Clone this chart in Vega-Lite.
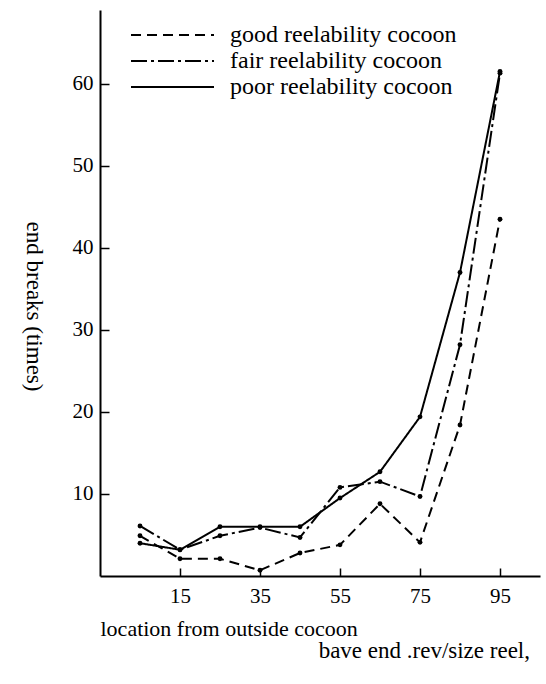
{
  "$schema": "https://vega.github.io/schema/vega-lite/v6.json",
  "width": 440,
  "height": 566,
  "autosize": {"type": "none"},
  "padding": {"left": 100, "top": 10, "right": 6, "bottom": 108},
  "background": "white",
  "config": {
    "font": "Liberation Serif",
    "view": {"stroke": null},
    "axis": {"grid": false, "domainColor": "black", "domainWidth": 2, "tickColor": "black", "tickWidth": 1.5, "labelColor": "black", "titleColor": "black", "labelFont": "Liberation Serif", "titleFont": "Liberation Serif", "titleFontWeight": "normal"},
    "legend": {"labelFont": "Liberation Serif"}
  },
  "title": {
    "text": "bave end .rev/size reel,",
    "orient": "bottom",
    "anchor": "end",
    "font": "Liberation Serif",
    "fontSize": 23,
    "fontWeight": "normal",
    "color": "black",
    "offset": 1,
    "dx": -10
  },
  "data": {
    "values": [
      {"loc": 5, "breaks": 4.9, "cocoon": "good reelability cocoon"},
      {"loc": 15, "breaks": 2.1, "cocoon": "good reelability cocoon"},
      {"loc": 25, "breaks": 2.1, "cocoon": "good reelability cocoon"},
      {"loc": 35, "breaks": 0.7, "cocoon": "good reelability cocoon"},
      {"loc": 45, "breaks": 2.8, "cocoon": "good reelability cocoon"},
      {"loc": 55, "breaks": 3.8, "cocoon": "good reelability cocoon"},
      {"loc": 65, "breaks": 8.8, "cocoon": "good reelability cocoon"},
      {"loc": 75, "breaks": 4.1, "cocoon": "good reelability cocoon"},
      {"loc": 85, "breaks": 18.4, "cocoon": "good reelability cocoon"},
      {"loc": 95, "breaks": 43.5, "cocoon": "good reelability cocoon"},
      {"loc": 5, "breaks": 6.1, "cocoon": "fair reelability cocoon"},
      {"loc": 15, "breaks": 3.2, "cocoon": "fair reelability cocoon"},
      {"loc": 25, "breaks": 4.9, "cocoon": "fair reelability cocoon"},
      {"loc": 35, "breaks": 5.9, "cocoon": "fair reelability cocoon"},
      {"loc": 45, "breaks": 4.7, "cocoon": "fair reelability cocoon"},
      {"loc": 55, "breaks": 10.8, "cocoon": "fair reelability cocoon"},
      {"loc": 65, "breaks": 11.5, "cocoon": "fair reelability cocoon"},
      {"loc": 75, "breaks": 9.7, "cocoon": "fair reelability cocoon"},
      {"loc": 85, "breaks": 28.2, "cocoon": "fair reelability cocoon"},
      {"loc": 95, "breaks": 61.3, "cocoon": "fair reelability cocoon"},
      {"loc": 5, "breaks": 4.0, "cocoon": "poor reelability cocoon"},
      {"loc": 15, "breaks": 3.2, "cocoon": "poor reelability cocoon"},
      {"loc": 25, "breaks": 6.0, "cocoon": "poor reelability cocoon"},
      {"loc": 35, "breaks": 6.0, "cocoon": "poor reelability cocoon"},
      {"loc": 45, "breaks": 6.0, "cocoon": "poor reelability cocoon"},
      {"loc": 55, "breaks": 9.5, "cocoon": "poor reelability cocoon"},
      {"loc": 65, "breaks": 12.7, "cocoon": "poor reelability cocoon"},
      {"loc": 75, "breaks": 19.4, "cocoon": "poor reelability cocoon"},
      {"loc": 85, "breaks": 37.0, "cocoon": "poor reelability cocoon"},
      {"loc": 95, "breaks": 61.5, "cocoon": "poor reelability cocoon"}
    ]
  },
  "encoding": {
    "x": {
      "field": "loc",
      "type": "quantitative",
      "scale": {"domain": [-5, 105], "nice": false, "zero": false},
      "axis": {
        "values": [15, 35, 55, 75, 95],
        "title": "location from outside cocoon",
        "titleFontSize": 22,
        "titleAnchor": "start",
        "titleAlign": "left",
        "titleBaseline": "alphabetic",
        "titleX": 0,
        "titleY": 59,
        "labelFontSize": 21,
        "tickSize": -8,
        "labelPadding": 17
      }
    },
    "y": {
      "field": "breaks",
      "type": "quantitative",
      "scale": {"domain": [0, 69], "nice": false},
      "axis": {
        "values": [10, 20, 30, 40, 50, 60],
        "title": "end breaks (times)",
        "titleFontSize": 23,
        "titleAngle": 90,
        "titleAlign": "center",
        "titleBaseline": "middle",
        "titleX": -67,
        "titleY": 296,
        "labelFontSize": 21,
        "tickSize": -9,
        "labelPadding": 16
      }
    }
  },
  "layer": [
    {
      "mark": {"type": "line", "color": "black", "strokeWidth": 2},
      "encoding": {
        "strokeDash": {
          "field": "cocoon",
          "type": "nominal",
          "scale": {
            "domain": ["good reelability cocoon", "fair reelability cocoon", "poor reelability cocoon"],
            "range": [[10, 6], [16, 4, 3, 4], [1, 0]]
          },
          "legend": {
            "title": null,
            "orient": "none",
            "legendX": 30,
            "legendY": 12,
            "padding": 0,
            "symbolType": "stroke",
            "symbolSize": 6889,
            "symbolStrokeWidth": 2,
            "symbolStrokeColor": "black",
            "clipHeight": 26,
            "rowPadding": 0,
            "labelOffset": 15,
            "labelFontSize": 24,
            "labelColor": "black",
            "labelLimit": 400
          }
        }
      }
    },
    {
      "mark": {"type": "point", "filled": true, "color": "black", "size": 24, "opacity": 1},
      "encoding": {"detail": {"field": "cocoon", "type": "nominal"}}
    }
  ]
}
